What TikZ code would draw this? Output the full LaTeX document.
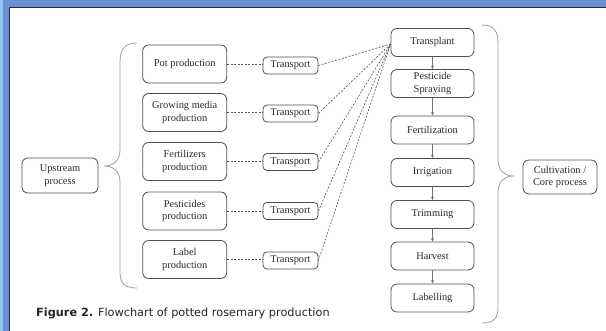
\documentclass[tikz,border=0pt]{standalone}
\usepackage{fontspec}
\setmainfont{Liberation Serif}
\newfontfamily\capfont{DejaVu Sans}
\usetikzlibrary{arrows.meta,calc}
\definecolor{frameblue}{HTML}{6B8FD0}
\definecolor{lightblue}{HTML}{8EC5F5}
\definecolor{framedark}{HTML}{1F2A3A}
\definecolor{boxline}{HTML}{505050}
\definecolor{boxtext}{HTML}{2A2A2A}
\tikzset{
  pbox/.style={draw=boxline, line width=0.8pt, rounded corners=6pt, align=center, inner sep=0pt,
    font=\fontsize{10.4}{12.7}\selectfont, text=boxtext},
  lbox/.style={pbox, minimum width=84pt, minimum height=38pt},
  tbox/.style={pbox, rounded corners=4pt, minimum width=55pt, minimum height=17pt},
  rbox/.style={pbox, minimum width=83pt, minimum height=28pt},
  dline/.style={draw=boxline, line width=0.6pt, dash pattern=on 2pt off 1.5pt},
  sarrow/.style={draw=boxline!80, line width=0.6pt, -{Stealth[length=3.5pt,width=3pt]}},
  bracestyle/.style={draw=gray!75, line width=0.8pt}
}
\begin{document}
\begin{tikzpicture}[x=1pt,y=-1pt]
\useasboundingbox (0,0) rectangle (606,331);
% frame
\fill[white] (0,0) rectangle (606,331);
\fill[frameblue] (0,0) rectangle (606,7);
\fill[frameblue] (3,0) rectangle (9,331);
\fill[lightblue] (0,0) rectangle (3,331);
\fill[framedark] (9,7) rectangle (606,8);
\fill[framedark] (9,7) rectangle (10,331);
% upstream
\node[pbox, minimum width=76pt, minimum height=35pt] (up) at (60,175.5) {Upstream\\process};
% left boxes
\node[lbox] (pot) at (184.7,64) {Pot production};
\node[lbox] (grow) at (184.7,112.5) {Growing media\\production};
\node[lbox] (fert) at (184.7,161.5) {Fertilizers\\production};
\node[lbox] (pest) at (184.7,211) {Pesticides\\production};
\node[lbox] (lab) at (184.7,259.5) {Label\\production};
% transport
\node[tbox] (t1) at (290.5,65.5) {Transport};
\node[tbox] (t2) at (290.5,113.5) {Transport};
\node[tbox] (t3) at (290.5,162) {Transport};
\node[tbox] (t4) at (290.5,211) {Transport};
\node[tbox] (t5) at (290.5,260.5) {Transport};
% right column
\node[rbox] (tr) at (432.5,42.5) {Transplant};
\node[rbox] (ps) at (432.5,83.5) {Pesticide\\Spraying};
\node[rbox] (fz) at (432.5,130) {Fertilization};
\node[rbox] (ir) at (432.5,172.5) {Irrigation};
\node[rbox] (tm) at (432.5,214.5) {Trimming};
\node[rbox] (hv) at (432.5,256) {Harvest};
\node[rbox] (lb) at (432.5,298) {Labelling};
% cultivation
\node[pbox, minimum width=74pt, minimum height=34pt] (cult) at (560,177) {Cultivation /\\Core process};
% dashed links
\draw[dline] (pot.east) -- (t1.west |- pot.east);
\draw[dline] (grow.east) -- (t2.west |- grow.east);
\draw[dline] (fert.east) -- (t3.west |- fert.east);
\draw[dline] (pest.east) -- (t4.west |- pest.east);
\draw[dline] (lab.east) -- (t5.west |- lab.east);
\coordinate (conv) at ($(tr.west)+(0,1.5)$);
\foreach \t in {t1,t2,t3,t4,t5}{\draw[dline] (\t.east) -- (conv);}
% arrows
\draw[sarrow] (tr) -- (ps);
\draw[sarrow] (ps) -- (fz);
\draw[sarrow] (fz) -- (ir);
\draw[sarrow] (ir) -- (tm);
\draw[sarrow] (tm) -- (hv);
\draw[sarrow] (hv) -- (lb);
% left brace
\draw[bracestyle] (137,43) .. controls (124,43) and (120,50) .. (120,62) -- (120,150)
  .. controls (120,161) and (113,166) .. (104,166)
  .. controls (113,166) and (120,171) .. (120,182) -- (120,272)
  .. controls (120,283) and (124,288) .. (137,288);
% right brace
\draw[bracestyle] (482,25) .. controls (495,25) and (498,32) .. (498,44) -- (498,160)
  .. controls (498,171) and (505,176) .. (514,176)
  .. controls (505,176) and (498,181) .. (498,192) -- (498,306)
  .. controls (498,318) and (495,323) .. (482,323);
% caption
\node[anchor=base west, inner sep=0pt, font=\capfont\fontsize{11.3}{13}\selectfont, text=black!85] (cap) at (36,317)
  {\textbf{Figure 2.} Flowchart of potted rosemary production};
\end{tikzpicture}
\end{document}
